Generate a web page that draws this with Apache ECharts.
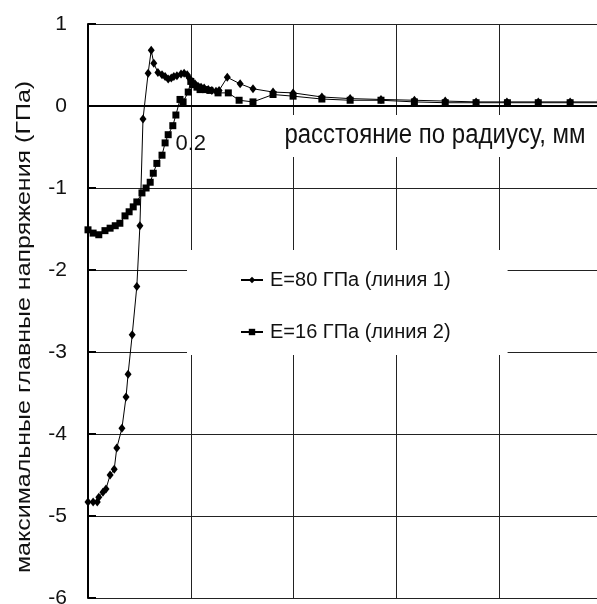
<!DOCTYPE html>
<html>
<head>
<meta charset="utf-8">
<script src="https://cdn.jsdelivr.net/npm/echarts@6/dist/echarts.min.js"></script>
<style>
html,body{margin:0;padding:0;background:#fff;}
#chart{width:597px;height:604px;}
</style>
</head>
<body>
<div id="chart"></div>
<script>
// Line 1: E=80 GPa (diamonds)
var distance1 = [0.000,0.010,0.018,0.021,0.029,0.035,0.043,0.051,0.056,0.066,0.074,0.078,0.086,0.095,0.101,0.107,0.117,0.123,0.128,0.136,0.144,0.150,0.156,0.162,0.167,0.173,0.181,0.187,0.193,0.197,0.202,0.208,0.214,0.220,0.226,0.234,0.241,0.249,0.255,0.271,0.296,0.321,0.360,0.399,0.455,0.510,0.570,0.635,0.695,0.755,0.815,0.876,0.938,0.997];
var stress1   = [-4.83,-4.83,-4.83,-4.77,-4.71,-4.67,-4.50,-4.43,-4.17,-3.93,-3.55,-3.27,-2.79,-2.20,-1.46,-0.16,0.40,0.68,0.52,0.41,0.38,0.36,0.33,0.34,0.36,0.37,0.39,0.40,0.38,0.34,0.28,0.27,0.24,0.23,0.22,0.20,0.19,0.18,0.19,0.35,0.27,0.21,0.17,0.16,0.11,0.09,0.08,0.07,0.06,0.05,0.05,0.05,0.05,0.05];
// Line 2: E=16 GPa (squares)
var distance2 = [0.000,0.010,0.021,0.033,0.043,0.053,0.062,0.072,0.080,0.088,0.095,0.105,0.113,0.121,0.127,0.134,0.144,0.150,0.156,0.165,0.171,0.179,0.185,0.195,0.200,0.204,0.212,0.218,0.228,0.237,0.253,0.273,0.294,0.321,0.360,0.399,0.455,0.510,0.570,0.635,0.695,0.755,0.816,0.876,0.938,0.997];
var stress2   = [-1.51,-1.55,-1.57,-1.52,-1.49,-1.46,-1.43,-1.34,-1.29,-1.23,-1.17,-1.06,-1.00,-0.93,-0.82,-0.70,-0.60,-0.45,-0.35,-0.24,-0.11,0.08,0.05,0.17,0.30,0.26,0.23,0.20,0.20,0.19,0.16,0.16,0.07,0.05,0.14,0.12,0.085,0.07,0.07,0.05,0.04,0.04,0.04,0.04,0.04,0.04];
var seriesNames = ['E=80 ГПа (линия 1)', 'E=16 ГПа (линия 2)'];
var xTickValues = [0.2];
var xTickLabels = ['0.2'];
var xAxisTitle = 'расстояние по радиусу, мм';
var yAxisTitle = 'максимальные главные напряжения (ГПа)';

var FONT = '"Liberation Sans", Arial, sans-serif';
var chart = echarts.init(document.getElementById('chart'), null, {renderer:'canvas'});
function pairs(xs, ys){ return xs.map(function(x,i){ return [x, ys[i]]; }); }

var GRID_TOP = 24, GRID_BOTTOM = 6, Y_MIN = -6, Y_MAX = 1;
var plotH = 604 - GRID_TOP - GRID_BOTTOM;
// distance from bottom edge of plot up to the y=0 line (library places axis; offset moves it)
var zeroOffset = -plotH * (0 - Y_MIN) / (Y_MAX - Y_MIN);

chart.setOption({
  animation: false,
  backgroundColor: '#fff',
  grid: {left: 88, top: GRID_TOP, right: -5, bottom: GRID_BOTTOM, containLabel: false, outerBoundsMode: 'none'},
  xAxis: {
    type: 'value', min: 0, max: 1.0, interval: 0.2, position: 'bottom', offset: zeroOffset,
    axisLine: {onZero: false, lineStyle: {color: '#000', width: 2}},
    axisTick: {show: false},
    axisLabel: {
      show: true, margin: 27, fontSize: 22, color: '#111', fontFamily: FONT,
      hideOverlap: false,
      formatter: function(v){
        for (var i=0;i<xTickValues.length;i++){ if (Math.abs(v - xTickValues[i])<1e-6) return xTickLabels[i]; }
        return '';
      }
    },
    splitLine: {show: true, lineStyle: {color: '#222', width: 1}}
  },
  yAxis: {
    type: 'value', min: Y_MIN, max: Y_MAX, interval: 1,
    axisLine: {show: true, onZero: false, lineStyle: {color: '#000', width: 2}},
    axisTick: {show: true, inside: true, length: 8, lineStyle: {color: '#000', width: 2}},
    axisLabel: {margin: 21, fontSize: 21, color: '#111', fontFamily: FONT},
    splitLine: {show: true, lineStyle: {color: '#222', width: 1}}
  },
  legend: {
    orient: 'vertical', left: 187, top: 250,
    backgroundColor: '#fff',
    padding: [20, 57, 13, 53],
    itemGap: 32, itemWidth: 22, itemHeight: 8,
    textStyle: {fontSize: 20, color: '#111', fontFamily: FONT, padding: [0,0,0,2]},
    data: seriesNames
  },
  graphic: [
    {type: 'rect', z: 50, shape: {x: 272, y: 115, width: 330, height: 42}, style: {fill: '#fff'}},
    {type: 'text', z: 60, x: 435, y: 136, scaleY: 1.13,
      style: {text: xAxisTitle, fontSize: 24, fontFamily: FONT, fill: '#111', align: 'center', verticalAlign: 'middle'}},
    {type: 'text', z: 60, x: 24, y: 327, rotation: Math.PI/2, scaleX: 1.19,
      style: {text: yAxisTitle, fontSize: 21, fontFamily: FONT, fill: '#111', align: 'center', verticalAlign: 'middle'}}
  ],
  series: [
    {name: seriesNames[1], type: 'line', data: pairs(distance2, stress2),
      symbol: 'rect', symbolSize: 7, showAllSymbol: true,
      lineStyle: {color: '#000', width: 1}, itemStyle: {color: '#000'}, z: 3},
    {name: seriesNames[0], type: 'line', data: pairs(distance1, stress1),
      symbol: 'diamond', symbolSize: [7, 9], showAllSymbol: true,
      lineStyle: {color: '#000', width: 1}, itemStyle: {color: '#000'}, z: 4}
  ]
});
</script>
</body>
</html>
